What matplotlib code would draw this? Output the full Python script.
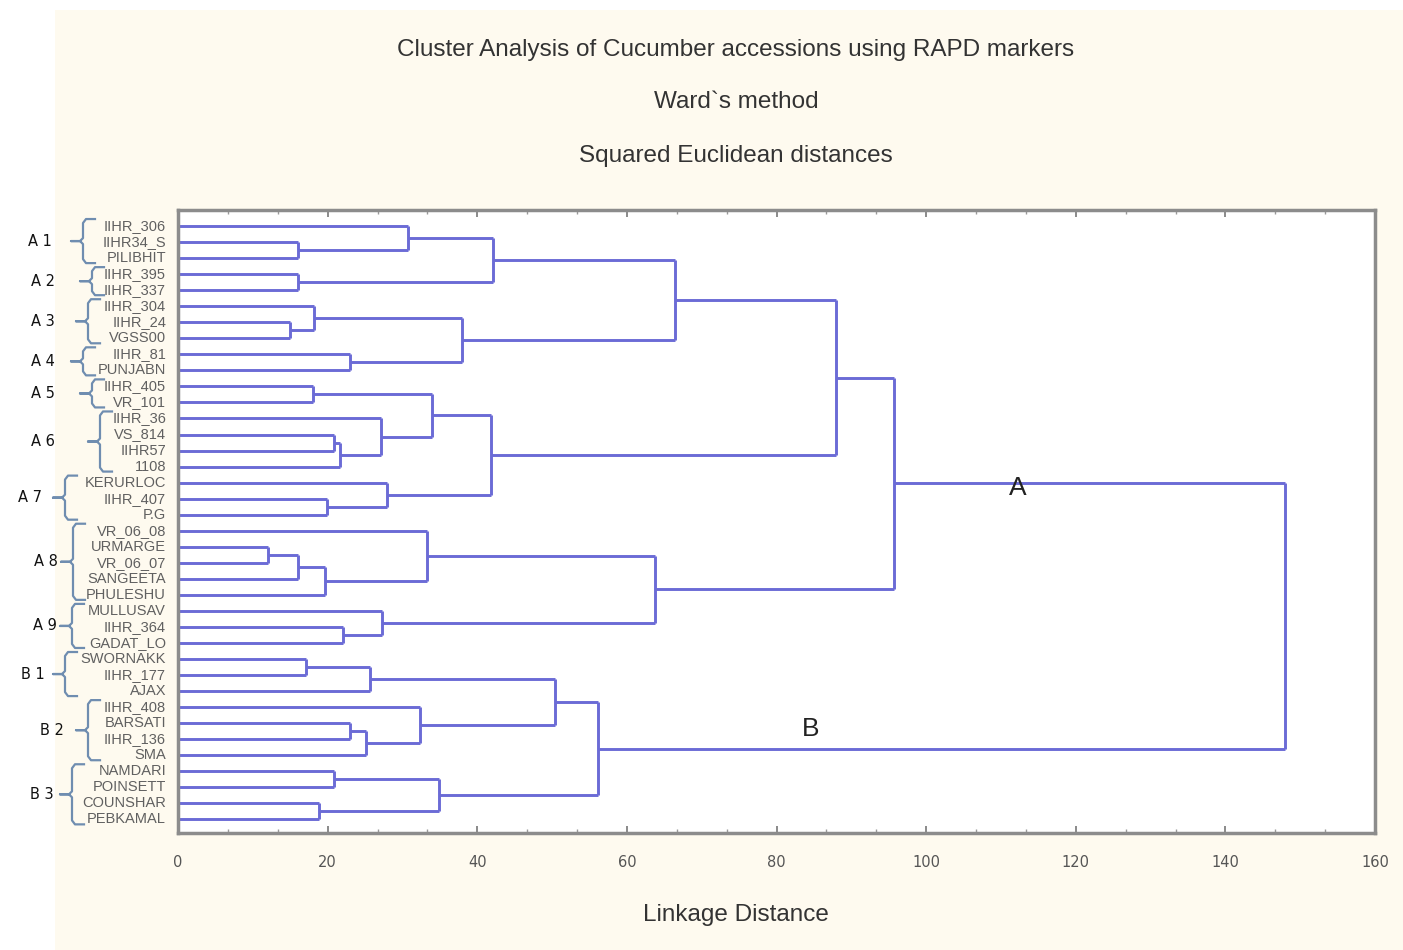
import matplotlib
matplotlib.use("Agg")
import matplotlib.pyplot as plt
from matplotlib.patches import Rectangle
from matplotlib.ticker import MultipleLocator

# ---------------- data ----------------
leaf_labels = ['IIHR_306', 'IIHR34_S', 'PILIBHIT', 'IIHR_395', 'IIHR_337',
               'IIHR_304', 'IIHR_24', 'VGSS00', 'IIHR_81', 'PUNJABN',
               'IIHR_405', 'VR_101', 'IIHR_36', 'VS_814', 'IIHR57', '1108',
               'KERURLOC', 'IIHR_407', 'P.G', 'VR_06_08', 'URMARGE',
               'VR_06_07', 'SANGEETA', 'PHULESHU', 'MULLUSAV', 'IIHR_364',
               'GADAT_LO', 'SWORNAKK', 'IIHR_177', 'AJAX', 'IIHR_408',
               'BARSATI', 'IIHR_136', 'SMA', 'NAMDARI', 'POINSETT',
               'COUNSHAR', 'PEBKAMAL']

# linkage rows: (child a, child b, linkage distance); new node ids start at 38
merge_a = [1, 0, 3, 39, 6, 5, 8, 43, 41, 10, 13, 48, 12, 47, 17, 16, 51, 46,
           20, 56, 57, 19, 25, 24, 59, 55, 27, 64, 31, 66, 30, 65, 34, 36, 70,
           69, 63]
merge_b = [2, 38, 4, 40, 7, 42, 9, 44, 45, 11, 14, 15, 49, 50, 18, 52, 53, 54,
           21, 22, 23, 58, 26, 60, 61, 62, 28, 29, 32, 33, 67, 68, 35, 37, 71,
           72, 73]
merge_h = [16.0, 30.7, 16.1, 42.1, 15.0, 18.2, 23.0, 38.0, 66.4, 18.1, 20.9,
           21.7, 27.2, 34.0, 19.9, 28.0, 41.9, 88.0, 12.0, 16.1, 19.6, 33.3,
           22.0, 27.3, 63.8, 95.7, 17.1, 25.7, 23.0, 25.1, 32.4, 50.4, 20.9,
           18.9, 34.9, 56.1, 148.0]

group_names = ['A 1', 'A 2', 'A 3', 'A 4', 'A 5', 'A 6', 'A 7', 'A 8', 'A 9',
               'B 1', 'B 2', 'B 3']
group_first = [0, 3, 5, 8, 10, 12, 16, 19, 24, 27, 30, 34]
group_last = [2, 4, 7, 9, 11, 15, 18, 23, 26, 29, 33, 37]

x_ticks = [0, 20, 40, 60, 80, 100, 120, 140, 160]

title_lines = ['Cluster Analysis of Cucumber accessions using RAPD markers',
               "Ward`s method", 'Squared Euclidean distances']

# ---------------- style / layout ----------------
W, H = 1403, 950
line_col = '#6b6bd6'
brace_col = '#6f8db0'
brace_x = [83, 92, 88, 83, 92, 100, 65, 73, 72, 65, 88, 72]
label_x = [40, 43, 43, 43, 43, 43, 30, 46, 45, 33, 52, 42]

fig = plt.figure(figsize=(W / 100, H / 100), dpi=100)
fig.patch.set_facecolor('white')
fig.add_artist(Rectangle((55 / W, 0), 1, 1 - 10 / H, transform=fig.transFigure,
                         facecolor='#fefaef', edgecolor='none', zorder=-10))

ax = fig.add_axes([178 / W, 1 - 833 / H, 1197 / W, 623 / H])
ax.set_facecolor('white')

n = len(leaf_labels)
pos_y = {i: float(i) for i in range(n)}
pos_x = {i: 0.0 for i in range(n)}
for k, (a, b, h) in enumerate(zip(merge_a, merge_b, merge_h)):
    node = n + k
    ya, yb = pos_y[a], pos_y[b]
    ax.plot([pos_x[a], h], [ya, ya], color=line_col, lw=2.1, solid_capstyle='butt')
    ax.plot([pos_x[b], h], [yb, yb], color=line_col, lw=2.1, solid_capstyle='butt')
    ax.plot([h, h], [ya, yb], color=line_col, lw=2.1, solid_capstyle='butt')
    pos_y[node] = (ya + yb) / 2
    pos_x[node] = h

ax.set_xlim(0, 160)
ax.set_ylim(n - 0.15, -1.0)
ax.set_yticks([])
ax.set_xticks(x_ticks)
ax.set_xticklabels([str(t) for t in x_ticks])
ax.xaxis.set_minor_locator(MultipleLocator(20 / 3))
ax.tick_params(axis='x', which='major', direction='in', length=5, width=1.2,
               color='#777777', top=True, pad=16, labelsize=10.5,
               labelcolor='#555555')
ax.tick_params(axis='x', which='minor', direction='in', length=3, width=1,
               color='#999999', top=True)
for s in ax.spines.values():
    s.set_color('#8c8c8c')
    s.set_linewidth(2.5)

# leaf labels
for i, lab in enumerate(leaf_labels):
    ax.text(-0.01, i, lab, transform=ax.get_yaxis_transform(), ha='right',
            va='center', fontsize=10.5, color='#606060', family='Liberation Sans',
            clip_on=False)

# cluster annotations A / B at root children
ax.text(112.3, pos_y[merge_a[-1]] + 0.3, 'A', fontsize=19, ha='center',
        va='center', color='#222222', family='Liberation Sans')
ax.text(84.5, pos_y[merge_b[-1]] - 1.2, 'B', fontsize=19, ha='center',
        va='center', color='#222222', family='Liberation Sans')

# titles
for txt, yy in zip(title_lines, [50, 102, 156]):
    fig.text(736 / W, 1 - yy / H, txt, ha='center', va='center', fontsize=17.5,
             color='#333333', family='Liberation Sans')
fig.text(736 / W, 1 - 915 / H, 'Linkage Distance', ha='center', va='center',
         fontsize=17.5, color='#333333', family='Liberation Sans')

# group braces in pixel coordinates
fig.canvas.draw()
ov = fig.add_axes([0, 0, 1, 1], facecolor='none')
ov.set_xlim(0, W)
ov.set_ylim(H, 0)
ov.axis('off')


def leaf_pix(i):
    return H - ax.transData.transform((0, i))[1]


for name, f, l, bx, lx in zip(group_names, group_first, group_last, brace_x, label_x):
    y0 = leaf_pix(f) - 7
    y1 = leaf_pix(l) + 5
    ym = (y0 + y1) / 2
    xs = [bx + 12, bx + 3, bx, bx, bx - 3, bx - 12, bx - 3, bx, bx, bx + 3, bx + 12]
    ys = [y0, y0, y0 + 4, ym - 3, ym, ym, ym, ym + 3, y1 - 4, y1, y1]
    ov.plot(xs, ys, color=brace_col, lw=1.6)
    ov.text(lx, ym, name, ha='center', va='center', fontsize=10.5,
            color='#111111', family='DejaVu Sans')

fig.savefig('out.png', dpi=100, facecolor=fig.get_facecolor())
